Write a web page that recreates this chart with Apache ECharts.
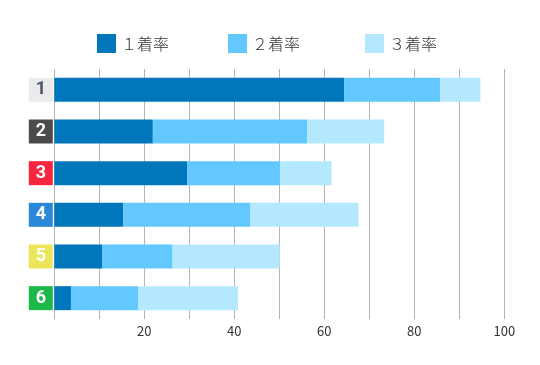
<!DOCTYPE html>
<html><head><meta charset="utf-8">
<script src="https://cdn.jsdelivr.net/npm/echarts@6/dist/echarts.min.js"></script>
<style>html,body{margin:0;padding:0;background:#fff}#c{width:540px;height:365px}</style>
</head><body><div id="c"></div>
<script>
const categories = ['1','2','3','4','5','6'];
const seriesNames = ['１着率','２着率','３着率'];
const rate1 = [64.4, 21.9, 29.5, 15.3, 10.6, 3.7];
const rate2 = [21.4, 34.3, 20.7, 28.3, 15.7, 14.9];
const rate3 = [8.9, 17.1, 11.4, 24.0, 23.8, 22.2];
const xTicks = [20, 40, 60, 80, 100];

const boxBg = ['#ebebeb','#4b4b4b','#f7253d','#2b87d8','#ebe55a','#1db84a'];
const boxFg = ['#4a5764','#ffffff','#ffffff','#ffffff','#ffffff','#ffffff'];
const rich = {};
categories.forEach((c,i)=>{
  rich['b'+i] = {backgroundColor: boxBg[i], color: boxFg[i], width: 24, height: 24, lineHeight: 24,
    align: 'center', fontSize: 18, fontWeight: 'bold', fontFamily: 'Roboto, "Noto Sans", sans-serif'};
});
const chart = echarts.init(document.getElementById('c'), null, {renderer:'canvas'});
const font = '"Noto Sans CJK JP", "Noto Sans", sans-serif';
const legendLefts = [92, 223, 360];
chart.setOption({
  animation: false,
  color: ['#0077bb','#62c8ff','#b3e8ff'],
  legend: seriesNames.map((n, i) => ({
    data: [n], left: legendLefts[i], top: 29, itemWidth: 19, itemHeight: 19,
    icon: 'rect', textStyle: {fontSize: 16, color: '#333', fontFamily: font, fontWeight: 300}
  })),
  grid: {left: 54.3, right: 35.7, top: 69, bottom: 46, containLabel: false},
  xAxis: {
    type: 'value', min: 0, max: 100, interval: 10,
    axisLine: {show: false}, axisTick: {show: false},
    splitLine: {show: true, lineStyle: {color: '#b4b4b4', width: 1}},
    axisLabel: {margin: 6, fontSize: 13, color: '#333', fontFamily: font,
      formatter: v => xTicks.indexOf(v) >= 0 ? String(v) : ''}
  },
  yAxis: {
    type: 'category', data: categories, inverse: true,
    axisLine: {show: false}, axisTick: {show: false},
    axisLabel: {margin: 1.5, formatter: (v, i) => '{b' + i + '|' + v + '}', rich: rich}
  },
  series: [rate1, rate2, rate3].map((d, i) => ({
    name: seriesNames[i], type: 'bar', stack: 'total', data: d, barWidth: 24
  }))
});
</script></body></html>
